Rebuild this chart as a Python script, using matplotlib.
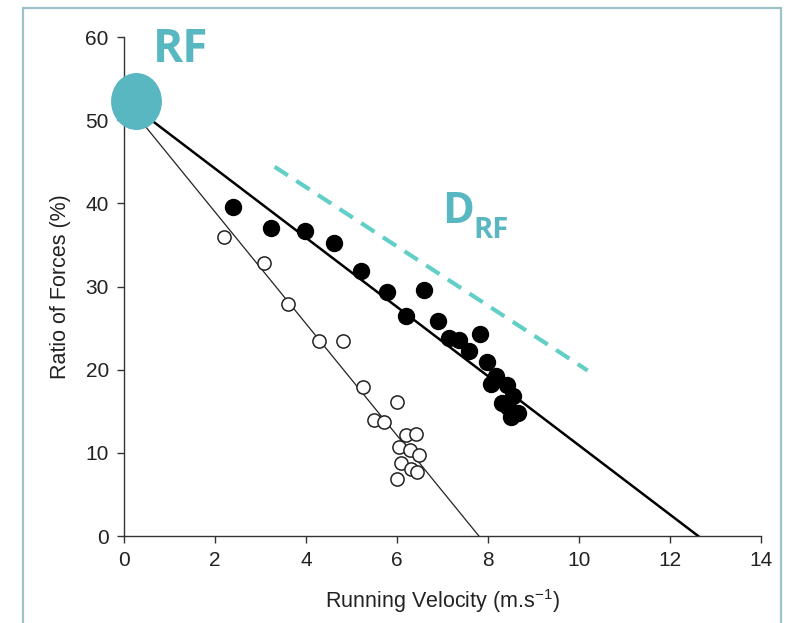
import matplotlib
matplotlib.use("Agg")
import matplotlib.pyplot as plt
from matplotlib.patches import Rectangle
from matplotlib.path import Path

plt.rcParams['font.family'] = ['Liberation Sans', 'DejaVu Sans']

# Fast runners (filled) and slow runners (open): velocity (m/s) vs ratio of forces (%)
vel_fast = [2.39, 3.24, 3.98, 4.61, 5.21, 5.79, 6.19, 6.59, 6.90, 7.14, 7.36,
            7.58, 7.83, 7.97, 8.18, 8.07, 8.41, 8.55, 8.30, 8.45, 8.66, 8.50]
rf_fast = [39.6, 37.0, 36.7, 35.2, 31.9, 29.4, 26.5, 29.6, 25.9, 23.8, 23.6,
           22.2, 24.3, 20.9, 19.2, 18.3, 18.2, 16.8, 16.0, 15.5, 14.8, 14.3]

vel_slow = [2.20, 3.07, 3.60, 4.28, 4.81, 5.25, 6.01, 5.49, 5.72, 6.19, 6.42,
            6.05, 6.28, 6.48, 6.09, 6.30, 6.44, 6.00]
rf_slow = [36.0, 32.8, 27.9, 23.5, 23.4, 17.9, 16.1, 13.9, 13.7, 12.2, 12.3,
           10.7, 10.3, 9.7, 8.8, 8.1, 7.7, 6.9]

# Regression lines (end points)
fit_fast_v = [0.0, 12.62]
fit_fast_r = [52.5, 0.0]
fit_slow_v = [0.0, 7.80]
fit_slow_r = [52.4, 0.0]

# RF intercept marker and DRF slope guide
rf0_v = [0.26]
rf0_r = [52.3]
drf_v = [3.31, 10.19]
drf_r = [44.4, 19.9]

xticks = [0, 2, 4, 6, 8, 10, 12, 14]
yticks = [0, 10, 20, 30, 40, 50, 60]

teal = '#59b7c1'
teal_dash = '#62cfc6'

# Slightly tall ellipse used as the RF marker
circ = Path.unit_circle()
ellipse_marker = Path(circ.vertices * [0.89, 1.0], circ.codes)

fig = plt.figure(figsize=(7.89, 6.23), dpi=100)
ax = fig.add_axes([0.1572, 0.1396, 0.8073, 0.8010])

# Panel frame
fig.patches.append(Rectangle((0.029, -0.05), 0.961, 1.037, transform=fig.transFigure,
                             fill=False, edgecolor='#9dc3ca', linewidth=1.6))

ax.plot(fit_fast_v, fit_fast_r, color='black', lw=1.8, zorder=2)
ax.plot(fit_slow_v, fit_slow_r, color='#222222', lw=0.9, zorder=2)

ax.plot(vel_slow, rf_slow, 'o', ms=9.5, mfc='white', mec='#222222', mew=1.1, zorder=3)
ax.plot(vel_fast, rf_fast, 'o', ms=11.5, mfc='black', mec='black', zorder=4)

ax.plot(drf_v, drf_r, color=teal_dash, lw=3, dashes=(3.8, 2.4),
        solid_capstyle='butt', dash_capstyle='butt', zorder=2)

ax.plot(rf0_v, rf0_r, marker=ellipse_marker, ms=40, mfc=teal, mec=teal,
        ls='none', clip_on=False, zorder=5)

ax.text(0.64, 57.0, 'RF', color=teal, fontsize=33, fontweight='bold',
        family='Open Sans', ha='left', va='baseline')
ax.text(6.99, 37.6, 'D', color=teal, fontsize=31, fontweight='bold',
        family='Open Sans', ha='left', va='baseline')
ax.text(7.67, 35.8, 'RF', color=teal, fontsize=21, fontweight='bold',
        family='Open Sans', ha='left', va='baseline')

ax.set_xlim(0, 14)
ax.set_ylim(0, 60)
ax.set_xticks(xticks)
ax.set_yticks(yticks)
for s in ['top', 'right']:
    ax.spines[s].set_visible(False)
for s in ['left', 'bottom']:
    ax.spines[s].set_color('#333333')
    ax.spines[s].set_linewidth(1.0)
ax.tick_params(direction='out', length=5, width=1.0, color='#333333',
               labelsize=15, labelcolor='#222222', pad=6)

ax.set_xlabel(r'Running Velocity (m.s$^{\mathregular{-1}}$)', fontsize=15.5,
              color='#222222', labelpad=12)
ax.set_ylabel('Ratio of Forces (%)', fontsize=15.5, color='#222222', labelpad=10)

fig.savefig('out.png', dpi=100)
